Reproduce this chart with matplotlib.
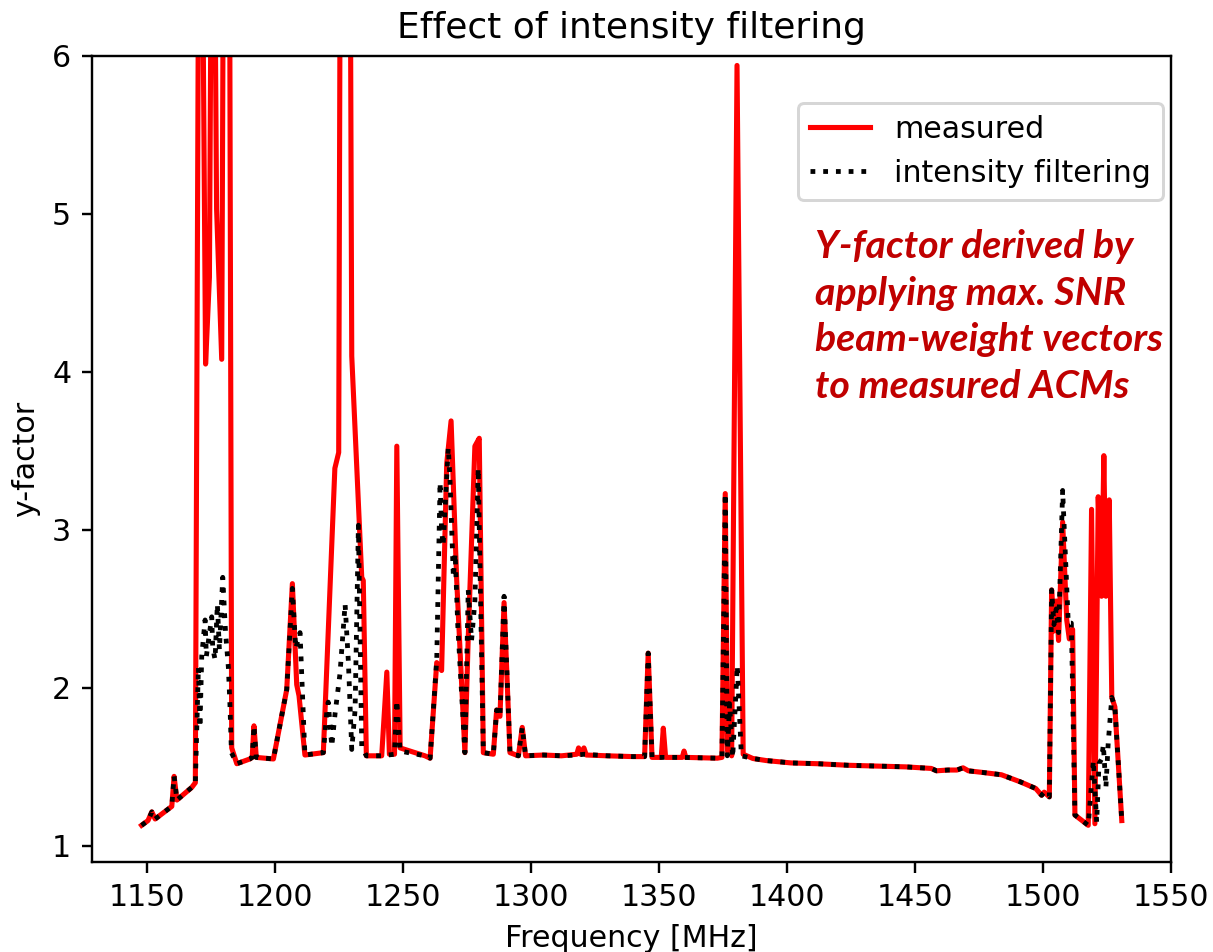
import matplotlib
matplotlib.use("Agg")
import matplotlib.pyplot as plt

# ---- data ----
freq_measured = [1148.0, 1150.5, 1152.0, 1153.3, 1159.8, 1160.7, 1161.8, 1167.6, 1169.0,
                 1170.8, 1173.0, 1174.5, 1175.8, 1177.3, 1179.3, 1180.5, 1182.0, 1183.2,
                 1185.2, 1190.3, 1191.2, 1191.9, 1192.8, 1199.5, 1204.7, 1206.9, 1208.6,
                 1209.5, 1211.8, 1219.0, 1223.5, 1225.0, 1226.0, 1229.0, 1230.1, 1234.0,
                 1234.6, 1235.8, 1241.8, 1243.8, 1244.8, 1246.8, 1247.7, 1249.0, 1258.7,
                 1260.7, 1263.3, 1265.2, 1267.2, 1268.9, 1271.1, 1274.3, 1275.6, 1278.2,
                 1279.9, 1281.5, 1285.4, 1286.7, 1288.0, 1289.6, 1291.9, 1295.2, 1296.7,
                 1298.0, 1305.0, 1312.0, 1318.0, 1318.7, 1319.5, 1320.8, 1321.7, 1330.0,
                 1340.0, 1344.5, 1345.9, 1347.4, 1351.0, 1351.8, 1352.7, 1359.2, 1359.9,
                 1360.6, 1372.9, 1374.7, 1376.0, 1376.9, 1377.7, 1378.5, 1380.6, 1383.0,
                 1386.8, 1392.0, 1401.7, 1412.0, 1424.1, 1435.0, 1446.5, 1456.5, 1458.5,
                 1463.0, 1466.5, 1468.9, 1471.0, 1476.4, 1483.9, 1491.3, 1497.3, 1499.6,
                 1500.6, 1502.6, 1503.5, 1504.4, 1505.3, 1506.2, 1507.8, 1509.4, 1510.4,
                 1511.7, 1512.6, 1517.8, 1519.1, 1520.4, 1521.7, 1523.0, 1523.9, 1524.7,
                 1526.0, 1527.0, 1528.2, 1530.9]
yfactor_measured = [1.13, 1.16, 1.215, 1.17, 1.25, 1.44, 1.29, 1.37, 1.40,
                    9.0, 4.05, 4.60, 8.5, 5.03, 4.08, 9.0, 9.0, 1.62,
                    1.52, 1.55, 1.56, 1.76, 1.56, 1.55, 1.99, 2.66, 2.02,
                    1.95, 1.575, 1.59, 3.39, 3.49, 9.0, 9.0, 4.10, 2.70,
                    2.68, 1.57, 1.57, 2.10, 1.58, 1.58, 3.53, 1.62, 1.57,
                    1.555, 2.16, 2.11, 3.42, 3.69, 2.68, 1.59, 2.32, 3.53,
                    3.58, 1.59, 1.58, 1.86, 1.82, 2.54, 1.59, 1.57, 1.75,
                    1.57, 1.575, 1.57, 1.58, 1.62, 1.58, 1.62, 1.575, 1.57,
                    1.565, 1.565, 2.22, 1.56, 1.56, 1.745, 1.56, 1.56, 1.60,
                    1.56, 1.555, 1.56, 3.23, 1.60, 1.88, 1.57, 5.94, 1.58,
                    1.553, 1.54, 1.525, 1.52, 1.51, 1.505, 1.50, 1.49, 1.475,
                    1.48, 1.48, 1.494, 1.475, 1.465, 1.45, 1.405, 1.363, 1.32,
                    1.34, 1.31, 2.62, 2.36, 2.55, 2.30, 3.05, 2.43, 2.31,
                    2.37, 1.195, 1.13, 3.13, 1.14, 3.21, 2.58, 3.47, 2.58,
                    3.19, 1.94, 1.88, 1.16]

freq_filtered = [1148.0, 1150.5, 1152.0, 1153.3, 1159.8, 1160.7, 1161.8, 1167.6, 1169.0,
                 1170.2, 1170.8, 1171.5, 1172.8, 1173.3, 1175.4, 1175.8, 1176.7, 1177.6,
                 1178.4, 1179.7, 1180.8, 1181.9, 1182.5, 1183.1, 1185.2, 1190.3, 1191.2,
                 1191.9, 1192.8, 1199.5, 1204.7, 1206.9, 1208.2, 1209.9, 1211.8, 1219.0,
                 1220.3, 1220.9, 1222.3, 1223.6, 1225.5, 1227.5, 1228.8, 1230.1, 1231.4,
                 1232.7, 1234.0, 1235.8, 1241.8, 1246.8, 1247.7, 1249.0, 1258.7, 1260.7,
                 1263.3, 1264.6, 1265.2, 1265.8, 1267.8, 1268.4, 1269.8, 1270.5, 1271.5,
                 1274.3, 1275.6, 1276.9, 1278.2, 1279.5, 1281.5, 1285.4, 1286.7, 1288.0,
                 1289.6, 1291.9, 1295.2, 1296.7, 1298.0, 1305.0, 1312.0, 1318.0, 1321.0,
                 1330.0, 1340.0, 1344.5, 1345.9, 1347.4, 1359.0, 1372.9, 1374.7, 1376.0,
                 1376.8, 1377.7, 1378.9, 1380.7, 1382.3, 1386.8, 1392.0, 1401.7, 1412.0,
                 1424.1, 1435.0, 1446.5, 1456.5, 1458.5, 1463.0, 1466.5, 1468.9, 1471.0,
                 1476.4, 1483.9, 1491.3, 1497.3, 1499.6, 1500.6, 1502.6, 1503.5, 1504.4,
                 1505.3, 1506.2, 1507.8, 1510.0, 1511.2, 1512.6, 1517.8, 1519.8, 1521.1,
                 1522.0, 1523.0, 1523.7, 1524.7, 1525.6, 1527.0, 1528.2, 1530.9]
yfactor_filtered = [1.13, 1.16, 1.215, 1.17, 1.25, 1.44, 1.29, 1.37, 1.40,
                    2.13, 1.75, 2.20, 2.43, 2.20, 2.45, 2.25, 2.18, 2.53,
                    2.24, 2.70, 2.35, 2.13, 1.90, 1.59, 1.52, 1.55, 1.56,
                    1.76, 1.56, 1.55, 1.99, 2.63, 2.25, 2.35, 1.575, 1.59,
                    1.84, 1.91, 1.63, 1.84, 2.09, 2.53, 2.16, 1.61, 1.86,
                    3.03, 1.63, 1.57, 1.57, 1.58, 1.92, 1.60, 1.57, 1.555,
                    2.18, 3.30, 3.00, 2.90, 3.52, 3.35, 2.70, 2.85, 2.40,
                    1.59, 2.62, 2.30, 2.55, 3.39, 1.59, 1.58, 1.86, 1.82,
                    2.58, 1.59, 1.57, 1.75, 1.57, 1.575, 1.57, 1.575, 1.58,
                    1.57, 1.565, 1.565, 2.22, 1.56, 1.56, 1.555, 1.56, 3.23,
                    1.57, 1.90, 1.56, 2.14, 1.57, 1.553, 1.54, 1.525, 1.52,
                    1.51, 1.505, 1.50, 1.49, 1.475, 1.48, 1.48, 1.494, 1.475,
                    1.465, 1.45, 1.405, 1.363, 1.32, 1.34, 1.31, 2.62, 2.40,
                    2.50, 2.35, 3.25, 2.41, 2.41, 1.195, 1.13, 1.54, 1.15,
                    1.52, 1.55, 1.64, 1.37, 1.65, 1.94, 1.88, 1.16]

x_ticks = [1150, 1200, 1250, 1300, 1350, 1400, 1450, 1500, 1550]
y_ticks = [1, 2, 3, 4, 5, 6]

title = "Effect of intensity filtering"
xlabel = "Frequency [MHz]"
ylabel = "y-factor"
legend_labels = ["measured", "intensity filtering"]
note = "Y-factor derived by\napplying max. SNR\nbeam-weight vectors\nto measured ACMs"

# ---- figure ----
DPI = 216
fig = plt.figure(figsize=(1213 / DPI, 952 / DPI), dpi=DPI)
ax = fig.add_axes([0.0761, 0.0949, 0.8890, 0.8463])

ax.plot(freq_measured, yfactor_measured, color="red", lw=1.7, label=legend_labels[0], zorder=2)
ax.plot(freq_filtered, yfactor_filtered, color="black", lw=1.6, ls=":", label=legend_labels[1], zorder=3)

ax.set_xlim(1128.75, 1550)
ax.set_ylim(0.9, 6)
ax.set_xticks(x_ticks)
ax.set_yticks(y_ticks)
ax.set_title(title, fontsize=12)
ax.set_xlabel(xlabel, fontsize=10)
ax.set_ylabel(ylabel, fontsize=10)
ax.tick_params(labelsize=10)

ax.legend(loc="upper right", bbox_to_anchor=(0.9926, 0.9417), borderaxespad=0, fontsize=10)

fig.text(815 / 1213, 1 - 229 / 952, note, color="#C00000", fontfamily="Lato",
         fontweight="bold", fontstyle="italic", fontsize=13.1, ha="left", va="top",
         linespacing=1.4)

fig.savefig("out.png", dpi=DPI)
